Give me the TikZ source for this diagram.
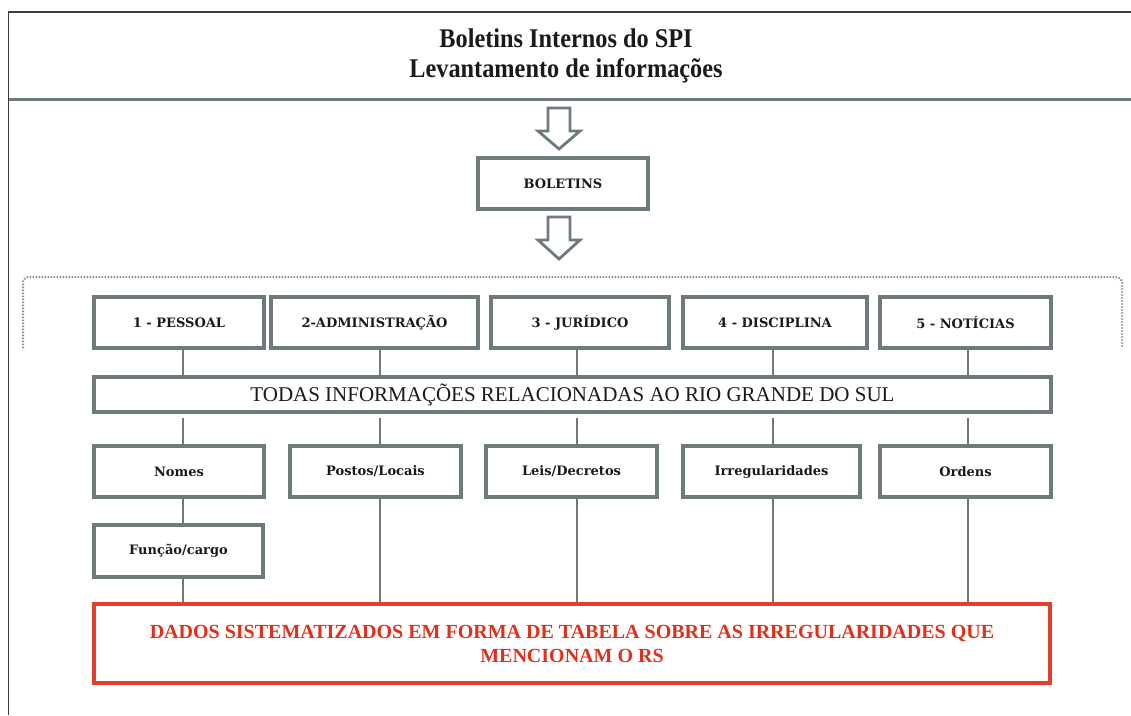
\documentclass[tikz,border=0pt]{standalone}
\usepackage{fontspec}
\setmainfont{Liberation Serif}
\newfontfamily\slab{DejaVu Serif}
\newfontfamily\timesf{Liberation Serif}
\newfontfamily\cond[FakeStretch=0.9]{Liberation Serif}
\usetikzlibrary{shadows,calc}
\definecolor{boxgray}{HTML}{6E7A7B}
\definecolor{dotgray}{HTML}{7E8C98}
\definecolor{redline}{HTML}{E0402C}
\definecolor{redtext}{HTML}{E0301C}
\definecolor{inkblack}{HTML}{1A1A1A}
\tikzset{
  catbox/.style={draw=boxgray, line width=3.2pt, fill=white, inner sep=0pt,
    minimum height=51pt, text=inkblack,
    font=\slab\bfseries\fontsize{13}{15}\selectfont,
    drop shadow={opacity=0.18, shadow xshift=1pt, shadow yshift=-1pt}},
  wide/.style={draw=boxgray, line width=3.2pt, fill=white, inner sep=0pt,
    text=inkblack, font=\timesf\fontsize{21}{24}\selectfont,
    drop shadow={opacity=0.18, shadow xshift=1pt, shadow yshift=-1pt}},
  redbox/.style={draw=redline, line width=3.4pt, fill=white, inner sep=0pt,
    text=redtext, align=center,
    font=\timesf\bfseries\fontsize{20}{24}\selectfont,
    drop shadow={opacity=0.18, shadow xshift=1pt, shadow yshift=-1pt}},
  link/.style={draw=boxgray, line width=2.8pt},
  blockarrow/.style={draw=boxgray, line width=2.8pt, fill=white, line join=miter},
  frame/.style={draw=inkblack!85, line width=1.8pt},
  sep/.style={draw=boxgray, line width=3pt},
  bracket/.style={draw=dotgray, line width=2pt, dash pattern=on 1.4pt off 1.6pt, rounded corners=6pt}
}
\begin{document}
\begin{tikzpicture}[x=1pt,y=-1pt]
\useasboundingbox (0,0) rectangle (1131,715);
% outer frame and header
\draw[frame] (1131,12) -- (8.5,12) -- (8.5,715);
\draw[sep] (9,99) -- (1131,99);
\node[text=inkblack, align=center, font=\cond\bfseries\fontsize{27}{30}\selectfont] (title) at (566,56)
  {Boletins Internos do SPI\\Levantamento de informações};

% BOLETINS
\node[catbox, minimum width=170pt] (bol) at (563,183.5) {BOLETINS};

% block arrows
\coordinate (a1) at (559,108);
\draw[blockarrow] ($(a1)+(-11,0)$) -- ($(a1)+(11,0)$) -- ($(a1)+(11,23)$) -- ($(a1)+(21,23)$)
  -- ($(a1)+(0,41)$) -- ($(a1)+(-21,23)$) -- ($(a1)+(-11,23)$) -- cycle;
\coordinate (a2) at (559,217);
\draw[blockarrow] ($(a2)+(-11,0)$) -- ($(a2)+(11,0)$) -- ($(a2)+(11,23)$) -- ($(a2)+(21,23)$)
  -- ($(a2)+(0,42)$) -- ($(a2)+(-21,23)$) -- ($(a2)+(-11,23)$) -- cycle;

% dotted bracket
\draw[bracket] (23,348) -- (23,277) -- (1122,277) -- (1122,348);

% connector x positions
\coordinate (c1) at (183,0);
\coordinate (c2) at (380,0);
\coordinate (c3) at (577,0);
\coordinate (c4) at (773,0);
\coordinate (c5) at (968,0);

% top row
\node[catbox, minimum width=170pt] (t1) at (179,322.5) {1 - PESSOAL};
\node[catbox, minimum width=207pt] (t2) at (374.5,322.5) {2-ADMINISTRAÇÃO};
\node[catbox, minimum width=178pt] (t3) at (580,322.5) {3 - JURÍDICO};
\node[catbox, minimum width=184pt] (t4) at (775,322.5) {4 - DISCIPLINA};
\node[catbox, minimum width=171pt] (t5) at (965.5,322.5) {5 - NOTÍCIAS};

% all info box
\node[wide, minimum width=957pt, minimum height=35pt] (todas) at (572.5,394.5)
  {TODAS INFORMAÇÕES RELACIONADAS AO RIO GRANDE DO SUL};

% second row
\node[catbox, minimum width=170pt] (s1) at (179,471.5) {Nomes};
\node[catbox, minimum width=171pt] (s2) at (375.5,471.5) {Postos/Locais};
\node[catbox, minimum width=171pt] (s3) at (571.5,471.5) {Leis/Decretos};
\node[catbox, minimum width=177pt] (s4) at (771.5,471.5) {Irregularidades};
\node[catbox, minimum width=171pt] (s5) at (965.5,471.5) {Ordens};

\node[catbox, minimum width=169pt, minimum height=52pt] (func) at (178.5,551) {Função/cargo};

% result box
\node[redbox, minimum width=956pt, minimum height=79pt] (res) at (572,643.5)
  {DADOS SISTEMATIZADOS EM FORMA DE TABELA SOBRE AS IRREGULARIDADES QUE\\MENCIONAM O RS};

% connectors
\foreach \i in {1,...,5}{
  \draw[link] (t\i.south -| c\i) -- (todas.north -| c\i);
  \draw[link, shorten <=4pt] (todas.south -| c\i) -- (s\i.north -| c\i);
}
\draw[link] (s1.south -| c1) -- (func.north -| c1);
\draw[link] (func.south -| c1) -- (res.north -| c1);
\foreach \i in {2,...,5}{
  \draw[link] (s\i.south -| c\i) -- (res.north -| c\i);
}
\end{tikzpicture}
\end{document}
